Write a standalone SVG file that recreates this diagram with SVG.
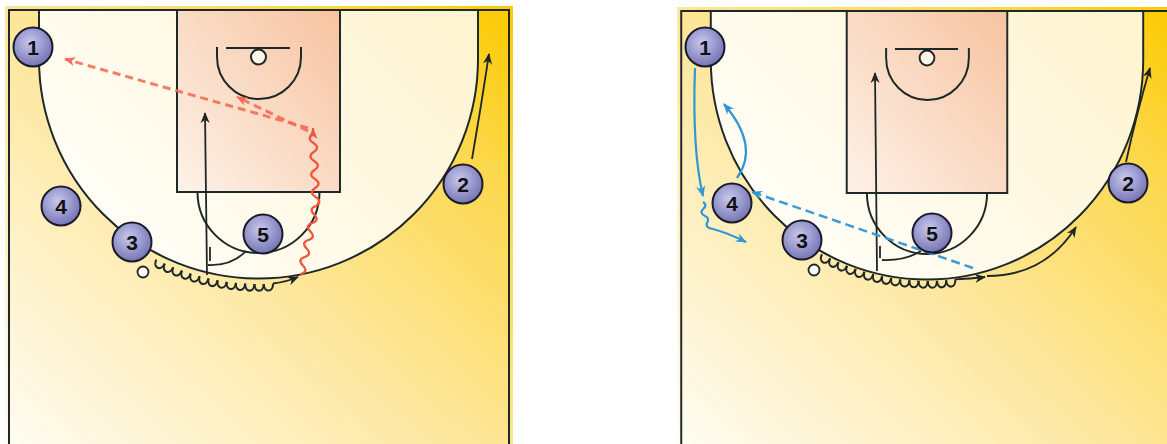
<svg xmlns="http://www.w3.org/2000/svg" xmlns:xlink="http://www.w3.org/1999/xlink" width="1167" height="444" viewBox="0 0 1167 444">
<style>
.ln{fill:none;stroke:#1f2828;stroke-width:2}
.k{fill:none;stroke:#1f2626;stroke-width:1.8}
.kb{fill:none;stroke:#1f2626;stroke-width:2.1}
.r{fill:none;stroke:#f0553e;stroke-width:2.3;stroke-linecap:round}
.rd{fill:none;stroke:#f26a52;stroke-width:3;stroke-dasharray:8 5;opacity:0.85}
.b{fill:none;stroke:#2f98d4;stroke-width:2.2}
.bd{fill:none;stroke:#3a9bd8;stroke-width:2.5;stroke-dasharray:9 5}
.pl{fill:url(#plGrad);stroke:#1a1a2c;stroke-width:2}
.num{font-family:"Liberation Sans",Arial,sans-serif;font-weight:bold;font-size:21px;fill:#111;text-anchor:middle}
.ball{fill:#fffdf8;stroke:#1f2626;stroke-width:1.8}
</style>
<defs>
<linearGradient id="outGrad" x1="0" y1="1" x2="1" y2="0">
<stop offset="0" stop-color="#fffdf6"/>
<stop offset="0.45" stop-color="#fde8a2"/>
<stop offset="0.8" stop-color="#fcd84e"/>
<stop offset="1" stop-color="#fcca00"/>
</linearGradient>
<linearGradient id="inGrad" x1="0" y1="0.6" x2="1" y2="0">
<stop offset="0" stop-color="#fffdf7"/>
<stop offset="1" stop-color="#fff4cf"/>
</linearGradient>
<linearGradient id="laneGrad" x1="0" y1="1" x2="1" y2="0">
<stop offset="0" stop-color="#fdf2e8"/>
<stop offset="1" stop-color="#f7c3a0"/>
</linearGradient>
<radialGradient id="plGrad" cx="0.42" cy="0.38" r="0.65">
<stop offset="0" stop-color="#c8c8ee"/>
<stop offset="1" stop-color="#7272b2"/>
</radialGradient>
<marker id="ahK" markerUnits="userSpaceOnUse" markerWidth="11" markerHeight="10" viewBox="0 0 12 10" refX="11" refY="5" orient="auto"><path d="M0,0 L12,5 L0,10 L3.5,5 z" fill="#1f2626"/></marker>
<marker id="ahR" markerUnits="userSpaceOnUse" markerWidth="11" markerHeight="10" viewBox="0 0 12 10" refX="11" refY="5" orient="auto"><path d="M0,0 L12,5 L0,10 L3.5,5 z" fill="#f0553e"/></marker>
<marker id="ahB" markerUnits="userSpaceOnUse" markerWidth="11" markerHeight="10" viewBox="0 0 12 10" refX="11" refY="5" orient="auto"><path d="M0,0 L12,5 L0,10 L3.5,5 z" fill="#2f98d4"/></marker>
<g id="court">
<rect x="5" y="6" width="508" height="460" fill="url(#outGrad)"/>
<rect x="9" y="10" width="500" height="455" fill="url(#outGrad)" stroke="#1f2828" stroke-width="2"/>
<path d="M39,10 L39,59 A219.5,219.5 0 0 0 478,59 L478,10 Z" fill="url(#inGrad)" stroke="#1f2828" stroke-width="2"/>
<rect x="177" y="10" width="163" height="182" fill="url(#laneGrad)" stroke="#1f2828" stroke-width="2"/>
<path class="ln" d="M197.5,192 A61,61 0 0 0 319.5,192"/>
<path class="ln" d="M217,47 L217,57 A42,42 0 0 0 301,57 L301,47"/>
<path class="ln" d="M226,48 L290,48"/>
<circle cx="258.5" cy="57" r="7.5" fill="#fff5ea" stroke="#1f2828" stroke-width="2"/>
</g>
<path id="bumpL" class="kb" d="M253.86,284 C253.86,293 263.14,293 263.14,284"/>
<path id="bumpR" class="kb" d="M923.41,281 C923.41,290 932.59,290 932.59,281"/>
</defs>

<g id="courts">
<use xlink:href="#court" href="#court"/>
<use xlink:href="#court" href="#court" transform="translate(927,1) scale(0.985,1) translate(-258.5,0)"/>
</g>

<g id="connectors">
<!-- left court -->
<g id="L-dribble3">
<use href="#bumpL" xlink:href="#bumpL" transform="rotate(25.7 258.5 58)"/>
<use href="#bumpL" xlink:href="#bumpL" transform="rotate(23.35 258.5 58)"/>
<use href="#bumpL" xlink:href="#bumpL" transform="rotate(21 258.5 58)"/>
<use href="#bumpL" xlink:href="#bumpL" transform="rotate(18.65 258.5 58)"/>
<use href="#bumpL" xlink:href="#bumpL" transform="rotate(16.3 258.5 58)"/>
<use href="#bumpL" xlink:href="#bumpL" transform="rotate(13.95 258.5 58)"/>
<use href="#bumpL" xlink:href="#bumpL" transform="rotate(11.6 258.5 58)"/>
<use href="#bumpL" xlink:href="#bumpL" transform="rotate(9.25 258.5 58)"/>
<use href="#bumpL" xlink:href="#bumpL" transform="rotate(6.9 258.5 58)"/>
<use href="#bumpL" xlink:href="#bumpL" transform="rotate(4.55 258.5 58)"/>
<use href="#bumpL" xlink:href="#bumpL" transform="rotate(2.2 258.5 58)"/>
<use href="#bumpL" xlink:href="#bumpL" transform="rotate(-0.15 258.5 58)"/>
<use href="#bumpL" xlink:href="#bumpL" transform="rotate(-2.5 258.5 58)"/>
<path class="k" d="M273,283.5 Q286,282 298,277" marker-end="url(#ahK)"/>
</g>
<path class="k" d="M207,275 L205,113" marker-end="url(#ahK)"/>
<path class="k" d="M246,251 Q232,266 208,265"/>
<path class="k" d="M210,247 L210,261"/>
<path class="k" d="M472,159 Q481,107 489,54" marker-end="url(#ahK)"/>
<path class="r" d="M301,274 q7.78,-2.74 1.875,-8.5 t1.875,-8.5 t1.875,-8.5 t1.875,-8.5 t1.875,-8.5 t1.875,-8.5 t1.875,-8.5 t1.875,-8.5 q6.8,-4.5 -0.375,-9 t-0.375,-9 t-0.375,-9 t-0.375,-9 t-0.375,-9 t-0.375,-9 t-0.375,-9 t-0.375,-9 l0,-5" marker-end="url(#ahR)"/>
<path class="rd" d="M308,128 L65,59" marker-end="url(#ahR)"/>
<path class="rd" d="M308,131 L237,97" marker-end="url(#ahR)"/>

<!-- right court -->
<g id="R-dribble3">
<use href="#bumpR" xlink:href="#bumpR" transform="rotate(27.2 928 58)"/>
<use href="#bumpR" xlink:href="#bumpR" transform="rotate(24.84 928 58)"/>
<use href="#bumpR" xlink:href="#bumpR" transform="rotate(22.48 928 58)"/>
<use href="#bumpR" xlink:href="#bumpR" transform="rotate(20.12 928 58)"/>
<use href="#bumpR" xlink:href="#bumpR" transform="rotate(17.76 928 58)"/>
<use href="#bumpR" xlink:href="#bumpR" transform="rotate(15.4 928 58)"/>
<use href="#bumpR" xlink:href="#bumpR" transform="rotate(13.04 928 58)"/>
<use href="#bumpR" xlink:href="#bumpR" transform="rotate(10.68 928 58)"/>
<use href="#bumpR" xlink:href="#bumpR" transform="rotate(8.32 928 58)"/>
<use href="#bumpR" xlink:href="#bumpR" transform="rotate(5.96 928 58)"/>
<use href="#bumpR" xlink:href="#bumpR" transform="rotate(3.6 928 58)"/>
<use href="#bumpR" xlink:href="#bumpR" transform="rotate(1.24 928 58)"/>
<use href="#bumpR" xlink:href="#bumpR" transform="rotate(-1.12 928 58)"/>
<use href="#bumpR" xlink:href="#bumpR" transform="rotate(-3.48 928 58)"/>
<use href="#bumpR" xlink:href="#bumpR" transform="rotate(-5.84 928 58)"/>
<path class="k" d="M955,279.3 Q970,279 985,277" marker-end="url(#ahK)"/>
</g>
<path class="k" d="M987,276 Q1045,276 1076,227" marker-end="url(#ahK)"/>
<path class="k" d="M877,271 L875,73" marker-end="url(#ahK)"/>
<path class="k" d="M921,251 Q905,261 882,260"/>
<path class="k" d="M880,246 L880,258"/>
<path class="k" d="M1126,162 Q1137,112 1150,68" marker-end="url(#ahK)"/>
<path class="b" d="M695,68 Q692,150 703,196" marker-end="url(#ahB)"/>
<path class="b" d="M737,178 Q760,146 724,104" marker-end="url(#ahB)"/>
<path class="b" d="M703,202 q5,3 0,7 q-4,4 2,7 q5,2 2,7 q-2,5 6,6 Q728,233 746,242" marker-end="url(#ahB)"/>
<path class="bd" d="M973,268 L752,192" marker-end="url(#ahB)"/>
</g>

<g id="L-ball"><circle class="ball" cx="143" cy="272" r="5.5"/></g>
<g id="L-p1"><circle class="pl" cx="33" cy="47" r="19.5"/><text class="num" x="33" y="54.5">1</text></g>
<g id="L-p2"><circle class="pl" cx="463" cy="184" r="19.5"/><text class="num" x="463" y="191.5">2</text></g>
<g id="L-p3"><circle class="pl" cx="132" cy="242" r="19.5"/><text class="num" x="132" y="249.5">3</text></g>
<g id="L-p4"><circle class="pl" cx="61" cy="206" r="19.5"/><text class="num" x="61" y="213.5">4</text></g>
<g id="L-p5"><circle class="pl" cx="263" cy="234" r="19.5"/><text class="num" x="263" y="241.5">5</text></g>

<g id="R-ball"><circle class="ball" cx="814" cy="270" r="5.5"/></g>
<g id="R-p1"><circle class="pl" cx="705" cy="47" r="19.5"/><text class="num" x="705" y="54.5">1</text></g>
<g id="R-p2"><circle class="pl" cx="1128" cy="183" r="19.5"/><text class="num" x="1128" y="190.5">2</text></g>
<g id="R-p3"><circle class="pl" cx="802" cy="240" r="19.5"/><text class="num" x="802" y="247.5">3</text></g>
<g id="R-p4"><circle class="pl" cx="732" cy="203" r="19.5"/><text class="num" x="732" y="210.5">4</text></g>
<g id="R-p5"><circle class="pl" cx="932" cy="233" r="19.5"/><text class="num" x="932" y="240.5">5</text></g>
</svg>
